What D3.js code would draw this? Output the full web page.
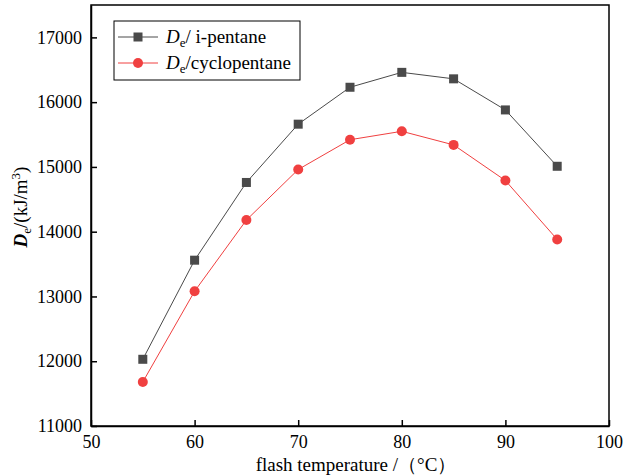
<!DOCTYPE html>
<html><head><meta charset="utf-8">
<script src="https://cdn.jsdelivr.net/npm/d3@7"></script>
<style>body{margin:0;background:#fff}svg{display:block}</style>
</head><body><svg id="c" width="625" height="476" font-family="Liberation Serif"></svg>
<script>
const temps = [55, 60, 65, 70, 75, 80, 85, 90, 95];
const iPentane = [12030, 13560, 14760, 15660, 16230, 16460, 16360, 15880, 15010];
const cyclopentane = [11680, 13080, 14180, 14960, 15420, 15550, 15340, 14790, 13880];
const xTicks = [50, 60, 70, 80, 90, 100];
const yTicks = [11000, 12000, 13000, 14000, 15000, 16000, 17000];

const FONT = "'Liberation Serif', 'Times New Roman', serif";
const svg = d3.select("#c");
const L = 91, R = 609, T = 5, B = 426;
const x = d3.scaleLinear().domain([50, 100]).range([L, R]);
const y = d3.scaleLinear().domain([11000, 17500]).range([B, T]);

svg.append("rect").attr("x", L).attr("y", T).attr("width", R - L).attr("height", B - T)
  .attr("fill", "none").attr("stroke", "#000").attr("stroke-width", 1.5);

const xa = svg.append("g").attr("transform", `translate(0,${B})`)
  .call(d3.axisBottom(x).tickValues(xTicks).tickFormat(d3.format("d")).tickSizeInner(-6).tickSizeOuter(0).tickPadding(9));
const ya = svg.append("g").attr("transform", `translate(${L},0)`)
  .call(d3.axisLeft(y).tickValues(yTicks).tickFormat(d3.format("d")).tickSizeInner(-6).tickSizeOuter(0).tickPadding(9));
[xa, ya].forEach(a => {
  a.attr("font-family", FONT).attr("font-size", 18);
  a.select(".domain").attr("stroke-width", 1.5);
  a.selectAll(".tick line").attr("stroke-width", 1.5);
  a.selectAll("text").style("font-family", FONT).attr("font-size", 18).attr("fill", "#000");
});
xa.selectAll("text").attr("dy", "0.71em");

svg.append("text").attr("x", 356).attr("y", 471).attr("text-anchor", "middle").style("font-family", FONT)
  .attr("font-size", 19).text("flash temperature /（°C）");

const yl = svg.append("text").attr("transform", `translate(27,207) rotate(-90)`).style("font-family", FONT)
  .attr("text-anchor", "middle").attr("font-size", 19);
yl.append("tspan").attr("font-style", "italic").attr("font-weight", "bold").text("D");
yl.append("tspan").attr("font-size", 13).attr("dy", 4).text("e");
yl.append("tspan").attr("dy", -4).text("/(kJ/m");
yl.append("tspan").attr("font-size", 13).attr("dy", -7).text("3");
yl.append("tspan").attr("dy", 7).text(")");

const line = d3.line().x(d => x(d[0])).y(d => y(d[1]));
const s1 = temps.map((t, i) => [t, iPentane[i]]);
const s2 = temps.map((t, i) => [t, cyclopentane[i]]);
const grey = "#4a4a4a", red = "#f04040";

svg.append("path").datum(s1).attr("d", line).attr("fill", "none").attr("stroke", grey).attr("stroke-width", 1);
svg.append("path").datum(s2).attr("d", line).attr("fill", "none").attr("stroke", red).attr("stroke-width", 1);
svg.selectAll(".sq").data(s1).enter().append("rect")
  .attr("x", d => x(d[0]) - 4.5).attr("y", d => y(d[1]) - 4.5).attr("width", 9).attr("height", 9).attr("fill", grey);
svg.selectAll(".ci").data(s2).enter().append("circle")
  .attr("cx", d => x(d[0])).attr("cy", d => y(d[1])).attr("r", 5).attr("fill", red);

const lg = svg.append("g");
lg.append("rect").attr("x", 114).attr("y", 21).attr("width", 186).attr("height", 59)
  .attr("fill", "#fff").attr("stroke", "#000").attr("stroke-width", 1);
const items = [{c: grey, m: "sq", t: "/ i-pentane", yy: 37}, {c: red, m: "ci", t: "/cyclopentane", yy: 63}];
items.forEach(it => {
  lg.append("line").attr("x1", 118).attr("x2", 158).attr("y1", it.yy).attr("y2", it.yy).attr("stroke", it.c);
  if (it.m === "sq") lg.append("rect").attr("x", 133.5).attr("y", it.yy - 4.5).attr("width", 9).attr("height", 9).attr("fill", it.c);
  else lg.append("circle").attr("cx", 138).attr("cy", it.yy).attr("r", 5).attr("fill", it.c);
  const tx = lg.append("text").attr("x", 166).attr("y", it.yy + 6).attr("font-size", 19).style("font-family", FONT);
  tx.append("tspan").attr("font-style", "italic").text("D");
  tx.append("tspan").attr("font-size", 13).attr("dy", 4).text("e");
  tx.append("tspan").attr("dy", -4).text(it.t);
});
</script></body></html>
